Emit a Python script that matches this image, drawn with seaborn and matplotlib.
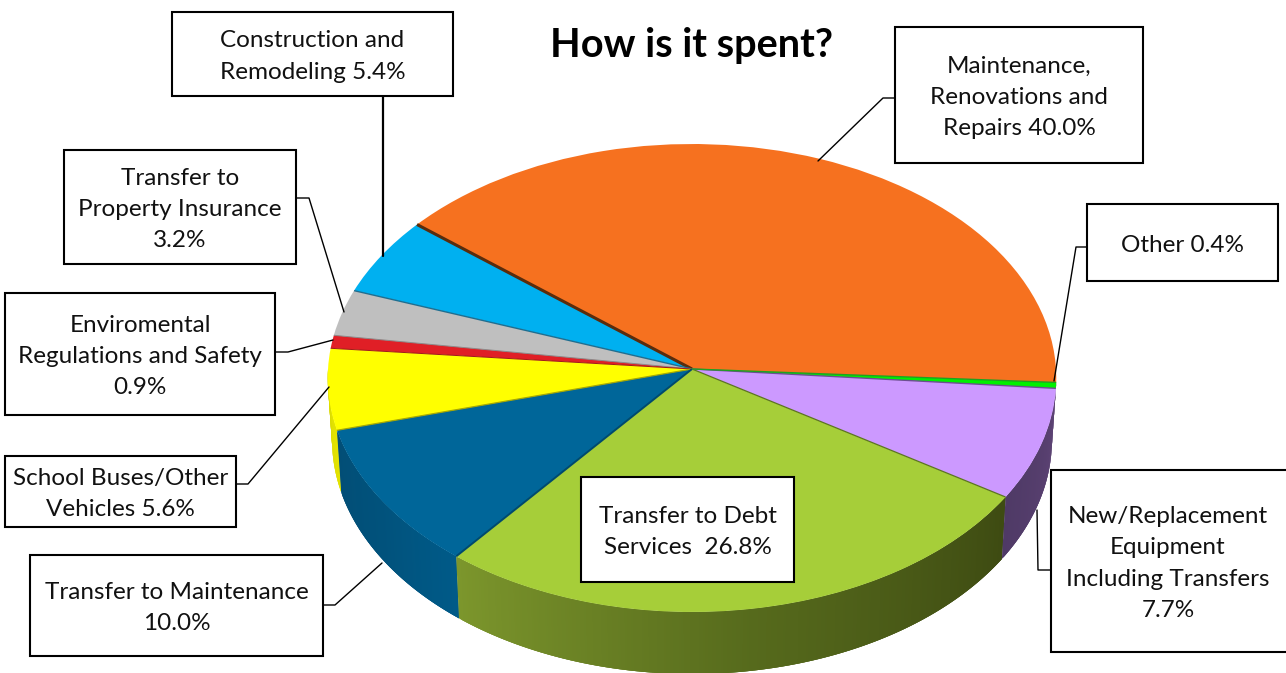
import numpy as np
import matplotlib
matplotlib.use("Agg")
import matplotlib.pyplot as plt
from matplotlib.collections import PolyCollection
from matplotlib.patches import Rectangle
from matplotlib.transforms import Transform
import seaborn as sns

# Budget shares, counter-clockwise from the right-hand rim
categories = [
    "Maintenance,\nRenovations and\nRepairs ",
    "Construction and\nRemodeling ",
    "Transfer to\nProperty Insurance\n",
    "Enviromental\nRegulations and Safety\n",
    "School Buses/Other\nVehicles ",
    "Transfer to Maintenance\n",
    "Transfer to Debt\nServices  ",
    "New/Replacement\nEquipment\nIncluding Transfers\n",
    "Other ",
]
shares = [40.0, 5.4, 3.2, 0.9, 5.6, 10.0, 26.8, 7.7, 0.4]

top_colors = ["#F6711F", "#00B0F0", "#BFBFBF", "#E01F26", "#FFFF00",
              "#006699", "#A6CE39", "#CC99FF", "#00F000"]
seam_colors = ["#5A2C0C", "#1F6E90", "#8A8A8A", "#A01818", "#A8A800",
               "#004A6E", "#5C7420", "#6C4F90", "#20A020"]
wall_stops = [["#F6711F"], ["#00B0F0"], ["#BFBFBF"], ["#E01F26"],
              ["#D8D800", "#E4E400"],
              ["#024E76", "#01527C", "#005A88"],
              ["#7C962C", "#566A1C", "#3E4B12"],
              ["#4F3A66", "#5C4274"],
              ["#5C4274"]]

# Box outlines as (left, top, right, bottom), then each leader's polyline
boxes = [
    (895, 27, 1143, 163), (172, 12, 453, 96), (64, 150, 296, 264),
    (5, 293, 275, 415), (5, 456, 236, 527), (30, 555, 323, 656),
    (581, 477, 794, 582), (1051, 470, 1290, 652), (1087, 204, 1278, 281),
]
leaders = [
    [(895, 98), (883, 98), (818, 161)],
    [(383, 96), (383, 256)],
    [(296, 198), (309, 198), (344, 312)],
    [(275, 352), (288, 352), (333, 340)],
    [(236, 484), (248, 484), (329, 387)],
    [(323, 605), (335, 605), (382, 563)],
    None,
    [(1051, 570), (1038, 570), (1037, 510)],
    [(1087, 247), (1076, 247), (1054, 381)],
]
leader_widths = [1.0, 1.6, 1.0, 1.0, 1.0, 1.0, 1.0, 1.0, 1.0]

START_ANGLE = -3.3
DEPTH = 62.0
BASE_NARROWING = 0.988


class TiltedDisk(Transform):
    """Projects the unit disk onto the page as a disk tilted away from the viewer."""
    input_dims = 2
    output_dims = 2
    is_separable = False
    has_inverse = False

    def __init__(self, cx, cy, a, b, k):
        super().__init__()
        self.cx, self.cy, self.a, self.b, self.k = cx, cy, a, b, k

    def transform_non_affine(self, values):
        values = np.asarray(values, float)
        u, v = values[:, 0], values[:, 1]
        w = 1 + self.k * v
        x = self.cx + self.a * u / w
        y = self.cy - (self.b * v + self.b * self.k) / w
        return np.column_stack([x, y])


tilt = TiltedDisk(692, 378, 364, 234, 0.0385)


def rim(deg):
    t = np.radians(deg)
    return tilt.transform_non_affine(np.column_stack([np.cos(t), np.sin(t)]))


sns.set_theme(style="white")
plt.rcParams["font.family"] = ["Lato", "DejaVu Sans"]

fig, ax = plt.subplots(figsize=(12.86, 6.73), dpi=100)
fig.subplots_adjust(0, 0, 1, 1)

wedges, _ = ax.pie(shares, colors=top_colors, startangle=START_ANGLE,
                   counterclock=True, wedgeprops={"linewidth": 0})
for wedge in wedges:
    wedge.set_transform(tilt + ax.transData)
    wedge.set_zorder(3)
    wedge.set_clip_on(False)

ax.set_xlim(0, 1286)
ax.set_ylim(673, 0)
ax.set_axis_off()

edges = START_ANGLE + np.cumsum([0] + shares) * 3.6

# Side wall of the disk: only the near half shows. Each quad overlaps the next
# so the shading stays free of hairline seams.
for lo, hi, stops in zip(edges[:-1], edges[1:], wall_stops):
    a, b = max(lo, 180.0), min(hi, 360.0)
    if b <= a:
        continue
    n = max(int((b - a) * 3), 2)
    ring = rim(np.linspace(a, b, n + 1))
    base = ring + [0, DEPTH]
    base[:, 0] = tilt.cx + (base[:, 0] - tilt.cx) * BASE_NARROWING
    shades = sns.blend_palette(stops * 2 if len(stops) == 1 else stops, n)
    quads = []
    for i in range(n):
        j = np.arange(i, min(i + 3, n) + 1)
        quads.append(np.vstack([ring[j], base[j][::-1]]))
    ax.add_collection(PolyCollection(quads, facecolors=shades, edgecolors="none",
                                     linewidths=0, zorder=2, clip_on=False))

# Darker seams between neighbouring slices on the top face
apex = tilt.transform_non_affine(np.array([[0.0, 0.0]]))[0]
seam_widths = [2.2, 1.0, 0.7, 0.7, 0.9, 1.4, 0.9, 1.0, 1.0]
for edge, colour, lw in zip(edges[1:], seam_colors, seam_widths):
    p = rim(np.array([edge]))[0]
    ax.plot([apex[0], p[0]], [apex[1], p[1]], color=colour, lw=lw, zorder=4,
            solid_capstyle="butt")

# Leader lines and label boxes
for path, lw in zip(leaders, leader_widths):
    if path is not None:
        xs, ys = zip(*path)
        ax.plot(xs, ys, color="black", lw=lw, zorder=5, clip_on=False)

for (l, t, r, b), stem, share in zip(boxes, categories, shares):
    ax.add_patch(Rectangle((l, t), r - l, b - t, fc="white", ec="black", lw=1.5, zorder=6))
    ax.text((l + min(r, 1285)) / 2, (t + b) / 2 + 2.5, f"{stem}{share:.1f}%",
            ha="center", va="center", ma="center", fontsize=17.5, color="#111111",
            linespacing=1.6, zorder=7)

ax.text(691, 46, "How is it spent?", ha="center", va="center", fontsize=28.6,
        fontweight="bold", color="black", zorder=7)

fig.savefig("out.png", dpi=100, facecolor="white")
